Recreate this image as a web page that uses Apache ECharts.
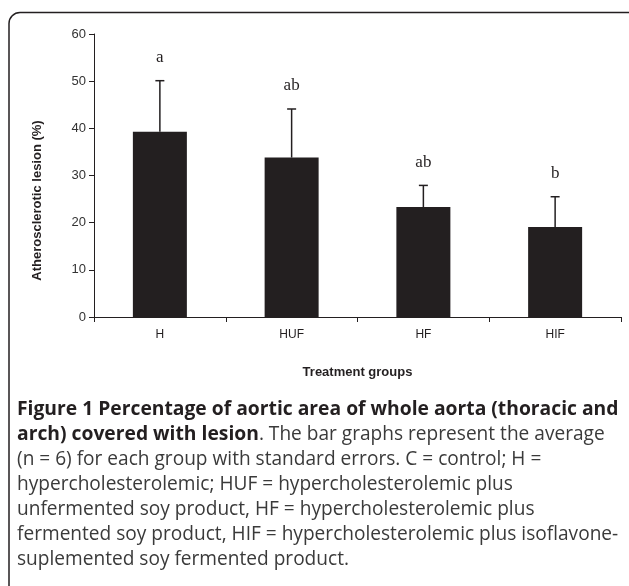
<!DOCTYPE html>
<html>
<head>
<meta charset="utf-8">
<script src="https://cdn.jsdelivr.net/npm/echarts@6/dist/echarts.min.js"></script>
<style>
  html, body { margin: 0; padding: 0; background: #fff; }
  #chart { width: 629px; height: 586px; }
</style>
</head>
<body>
<div id="chart"></div>
<script>
  // values
  var groups = ['H', 'HUF', 'HF', 'HIF'];
  var lesion = [39.3, 33.8, 23.3, 19.1];
  var stderr = [10.8, 10.3, 4.6, 6.4];
  var letters = ['a', 'ab', 'ab', 'b'];
  var yTicks = { min: 0, max: 60, step: 10 };

  var caption =
    '{b|Figure 1 Percentage of aortic area of whole aorta (thoracic and}\n' +
    '{b|arch) covered with lesion}{n|. The bar graphs represent the average}\n' +
    '{n|(n = 6) for each group with standard errors. C = control; H =}\n' +
    '{n|hypercholesterolemic; HUF = hypercholesterolemic plus}\n' +
    '{n|unfermented soy product, HF = hypercholesterolemic plus}\n' +
    '{n|fermented soy product, HIF = hypercholesterolemic plus isoflavone-}\n' +
    '{n|suplemented soy fermented product.}';

  var ink = '#231f20';
  var chart = echarts.init(document.getElementById('chart'));

  function errorItem(params, api) {
    var i = api.value(0);
    var top = api.coord([i, api.value(1) + api.value(2)]);
    var base = api.coord([i, api.value(1)]);
    var cap = 4.5;
    return {
      type: 'group',
      children: [
        { type: 'line', shape: { x1: base[0], y1: base[1], x2: top[0], y2: top[1] },
          style: { stroke: ink, lineWidth: 1.5 } },
        { type: 'line', shape: { x1: top[0] - cap, y1: top[1], x2: top[0] + cap, y2: top[1] },
          style: { stroke: ink, lineWidth: 1.5 } },
        { type: 'text', x: top[0], y: top[1] - 23,
          style: { text: letters[i], fontFamily: 'Liberation Serif', fontSize: 17,
                   fill: ink, align: 'center', verticalAlign: 'middle' } }
      ]
    };
  }

  chart.setOption({
    animation: false,
    grid: { left: 94, right: 8, top: 34, bottom: 269 },
    xAxis: {
      type: 'category',
      data: groups,
      name: 'Treatment groups',
      nameLocation: 'middle',
      nameGap: 49,
      nameTextStyle: { fontFamily: 'Liberation Sans', fontWeight: 'bold', fontSize: 13, color: ink },
      axisLine: { lineStyle: { color: ink, width: 1 } },
      axisTick: { show: true, length: 5, lineStyle: { color: ink } },
      axisLabel: { fontFamily: 'Liberation Sans', fontSize: 12, color: ink, margin: 12 }
    },
    yAxis: {
      type: 'value',
      min: yTicks.min,
      max: yTicks.max,
      interval: yTicks.step,
      name: 'Atherosclerotic lesion (%)',
      nameLocation: 'middle',
      nameGap: 50,
      nameTextStyle: { fontFamily: 'Liberation Sans', fontWeight: 'bold', fontSize: 13, color: ink,
                       padding: [0, 50, 0, 0] },
      axisLine: { show: true, lineStyle: { color: ink, width: 1 } },
      axisTick: { show: true, length: 5, lineStyle: { color: ink } },
      splitLine: { show: false },
      axisLabel: { fontFamily: 'Liberation Sans', fontSize: 13, color: '#333', margin: 8 }
    },
    series: [
      {
        type: 'bar',
        data: lesion,
        barWidth: 54,
        itemStyle: { color: ink }
      },
      {
        type: 'custom',
        renderItem: errorItem,
        data: groups.map(function (g, i) { return [i, lesion[i], stderr[i]]; }),
        z: 5
      }
    ],
    graphic: [
      {
        type: 'rect',
        shape: { x: 9, y: 12.5, width: 640, height: 585, r: 11 },
        style: { fill: 'none', stroke: ink, lineWidth: 1.5 },
        silent: true
      },
      {
        type: 'text',
        left: 17,
        top: 397,
        style: {
          text: caption,
          lineHeight: 25,
          rich: {
            b: { fontFamily: 'Open Sans', fontWeight: 'bold', fontSize: 19.3, fill: ink, lineHeight: 25 },
            n: { fontFamily: 'Open Sans', fontSize: 19.1, fill: '#3a3a3a', lineHeight: 25 }
          }
        }
      }
    ]
  });
</script>
</body>
</html>
